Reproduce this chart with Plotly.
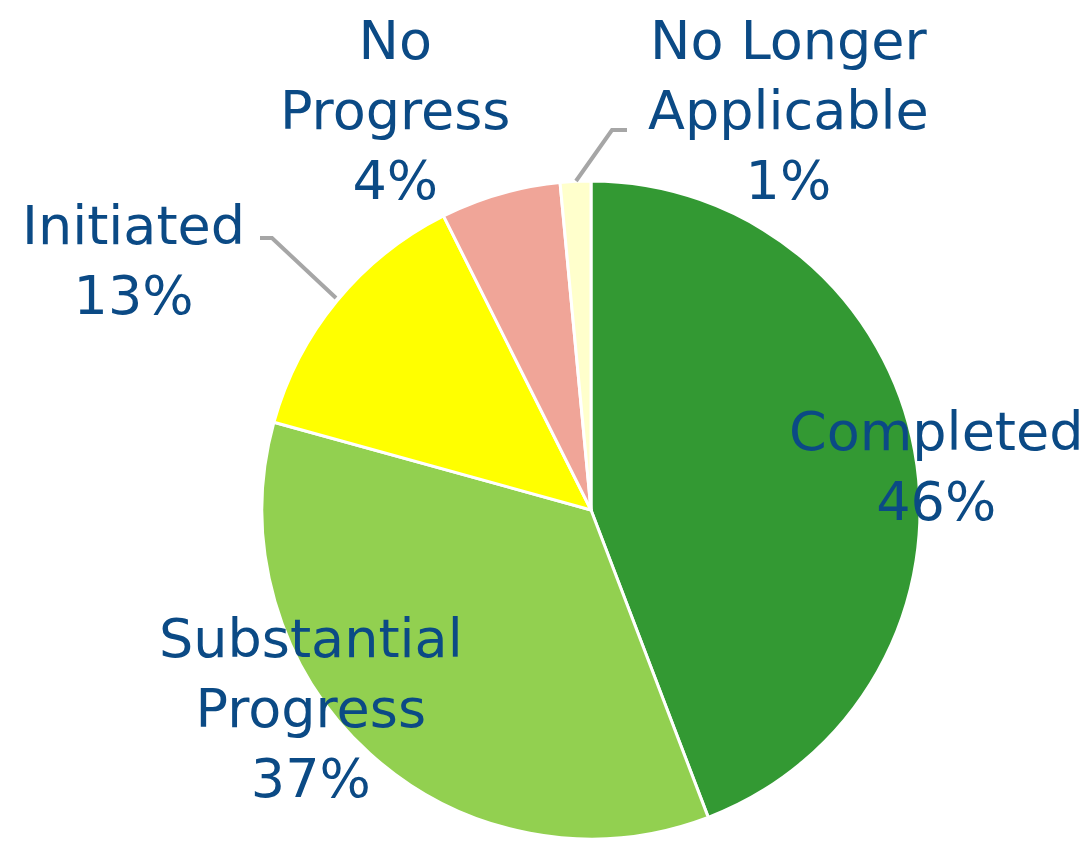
import plotly.graph_objects as go

W, H = 1091, 841
OFF = 8  # page body margin in the browser

categories = ["Completed", "Substantial Progress", "Initiated", "No Progress", "No Longer Applicable"]
values = [44.2, 35.1, 13.3, 5.9, 1.5]
pct_labels = ["46%", "37%", "13%", "4%", "1%"]
label_lines = [["Completed"], ["Substantial", "Progress"], ["Initiated"], ["No", "Progress"], ["No Longer", "Applicable"]]
colors = ["#339933", "#92D050", "#FFFF00", "#F0A598", "#FFFFCC"]

# label block centres (pixels from top-left of the window)
label_pos = [(936, 466), (311, 708), (133, 260), (395, 110), (788, 110)]

TEXT_COLOR = "#0B4A85"
FONT = "DejaVu Sans"


def px(x):
    return (x - OFF) / W


def py(y):
    return 1 - (y - OFF) / H


CX, CY, R = 591, 510, 329

fig = go.Figure(go.Pie(
    labels=categories,
    values=values,
    sort=False,
    direction="clockwise",
    rotation=0,
    marker=dict(colors=colors, line=dict(color="white", width=3)),
    textinfo="none",
    hoverinfo="label+percent",
    showlegend=False,
    domain=dict(x=[px(CX - R), px(CX + R)], y=[py(CY + R), py(CY - R)]),
))

annotations = []
for lines, pct, (cx, cy) in zip(label_lines, pct_labels, label_pos):
    text = "<br>".join(lines + [pct])
    annotations.append(dict(
        x=px(cx), y=py(cy), xref="paper", yref="paper",
        text=text, showarrow=False, xanchor="center", yanchor="middle",
        borderpad=0,
        font=dict(family=FONT, size=54, color=TEXT_COLOR),
    ))

leaders = [
    [(576, 181), (612, 130), (627, 130)],
    [(336, 298), (272, 238), (260, 238)],
]
shapes = []
for pts in leaders:
    path = "M " + " L ".join(f"{px(x)},{py(y)}" for x, y in pts)
    shapes.append(dict(type="path", xref="paper", yref="paper", path=path,
                       line=dict(color="#A6A6A6", width=4)))

fig.update_layout(
    width=W, height=H,
    margin=dict(l=0, r=0, t=0, b=0),
    paper_bgcolor="white",
    plot_bgcolor="white",
    annotations=annotations,
    shapes=shapes,
)

fig.write_html("out.html")
